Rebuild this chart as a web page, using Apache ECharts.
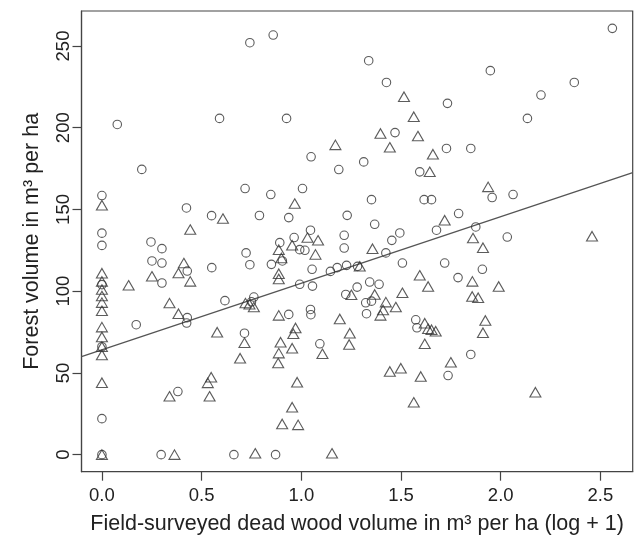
<!DOCTYPE html>
<html>
<head>
<meta charset="utf-8">
<script src="https://cdn.jsdelivr.net/npm/echarts@6/dist/echarts.min.js"></script>
<style>html,body{margin:0;padding:0;background:#fff}#c{width:636px;height:538px}</style>
</head>
<body>
<div id="c"></div>
<script>
// Circles (series 1)
const circleX = [0.742,0.077,0.59,0.20,0.859,1.338,1.427,1.733,0.926,1.47,1.049,1.313,1.728,1.188,1.594,2.56,1.948,2.369,2.202,2.134,1.85,
  0.718,0,0.424,0.55,0.79,0,0,0.246,0.301,0.251,0.301,0.428,0.551,0.723,0.742,0.301,0.617,0.762,0.75,0.428,0.425,0.172,0.715,0.381,0.297,0.662,0,0,0,0,
  0.871,0.937,1.048,1.093,1.327,1.574,1.58,1.736,1.85,1.957,2.062,1.789,1.678,1.875,2.033,1.719,1.908,1.786,
  0.847,1.006,1.352,1.616,1.653,0.937,1.23,1.368,1.046,1.494,1.454,1.215,0.964,0.892,0.992,1.018,1.215,1.424,0.905,0.85,1.054,1.146,1.18,1.227,1.282,1.507,0.992,1.056,1.343,1.39,1.28,1.223,1.323,1.352,1.046];
const circleY = [252,202,205.7,174.5,256.7,241,227.7,214.9,205.7,197,182.2,179.1,187.3,174.4,173,260.8,234.9,227.7,220,205.7,187.3,
  162.8,158.5,150.9,146.2,146.3,135.5,128,130.1,126,118.5,117.2,112.3,114.4,123.4,116.2,105,94.2,96.4,93.5,83.8,80.5,79.5,74.3,38.6,0,0,66,22,0,104,
  0,85.8,85.6,67.8,86.2,82.5,77.6,48.4,61.3,157.3,159.1,147.5,137.3,139.3,133.1,117.2,113.4,108.3,
  159.1,162.8,156,156,156,145,146.4,140.9,137.3,135.6,131.1,134.2,132.8,129.7,125.4,125,126.4,123.4,118.5,116.4,113.4,112.1,114.4,115.8,115.2,117.2,104.2,103.1,105.6,104.2,102.5,98,92.9,93.9,88.8];

// Triangles (series 2)
const triangleX = [1.515,1.564,1.397,1.585,1.444,1.171,1.66,1.644,
  0,0.607,0.443,0.411,0.384,0.251,0.134,0.443,0.339,0.72,0.74,0.762,0.384,
  0,0,0,0,0,0,0,0,0,0,0,0,
  0.578,0.715,0.693,0.548,0.531,0.54,0.339,0.364,0.769,
  1.154,0.904,0.984,0.954,0.979,0.884,0.887,0.896,0.954,0.971,0.96,0.887,1.106,1.193,1.243,1.24,1.397,1.41,1.619,1.636,1.653,1.674,1.619,1.444,1.499,1.599,1.564,1.75,
  1.923,1.911,2.174,
  1.937,1.719,1.861,2.458,1.911,1.858,1.99,1.857,1.887,
  0.967,1.031,1.084,0.887,0.954,1.357,1.071,0.9,0.887,0.887,1.293,1.594,1.636,1.251,1.368,1.507,1.424,1.474];
const triangleY = [219,206.7,196.5,194.9,188,189.5,183.8,173,
  152.6,144.4,137.7,117.2,111.1,109.1,103.6,106,92.7,92.7,92,90.3,86.2,
  111,106,101,97,93,88,78,72,66,61,44,0,
  74.9,68.4,59,47.4,43.9,35.7,35.7,0,0.8,
  0.8,18.8,18.2,29,44.3,56,62.1,68.8,65.1,77.5,74,85.2,61.7,83,74.3,67.4,85.2,88.5,80.4,77,76.4,75.5,67.8,50.9,52.9,47.8,32,56.5,
  82.1,74.6,38.2,
  163.8,143.4,132.5,133.6,126.6,106,102.9,96.8,96,
  153.6,132.8,131.1,125.4,128.1,126,122.5,120.3,110.7,107.5,115.2,109.7,102.9,97.8,98,99,93.3,90.3];

// Regression line end points
const lineX = [-0.1024, 2.662];
const lineY = [60.0, 172.5];

// Tick labels
const xTicks = [0, 0.5, 1.0, 1.5, 2.0, 2.5];
const yTicks = [0, 50, 100, 150, 200, 250];

const zip = (a, b) => a.map((v, i) => [v, b[i]]);
const INK = '#333';
const FONT = '"Liberation Sans", Arial, sans-serif';

const chart = echarts.init(document.getElementById('c'), null, {renderer: 'canvas'});
chart.setOption({
  animation: false,
  backgroundColor: '#fff',
  grid: {left: 81.5, right: 3.3, top: 11, bottom: 66.3, containLabel: false, outerBoundsMode: 'none',
         show: true, borderColor: '#444', borderWidth: 1.2, backgroundColor: 'transparent'},
  xAxis: {
    type: 'value', min: -0.1024, max: 2.662,
    name: 'Field-surveyed dead wood volume in m³ per ha (log + 1)',
    nameLocation: 'middle', nameGap: 41,
    nameTextStyle: {fontFamily: FONT, fontSize: 21.5, color: '#222'},
    axisLine: {show: true, onZero: false, lineStyle: {color: '#444', width: 1.2}},
    axisTick: {show: true, length: 9, inside: false, customValues: xTicks, lineStyle: {color: '#444', width: 1.2}},
    axisLabel: {customValues: xTicks, formatter: v => v.toFixed(1), fontFamily: FONT, fontSize: 18.5, color: '#222', margin: 15},
    splitLine: {show: false}
  },
  yAxis: {
    type: 'value', min: -10.44, max: 271.4,
    name: 'Forest volume in m³ per ha',
    nameLocation: 'middle', nameGap: 38, nameRotate: 90,
    nameTextStyle: {fontFamily: FONT, fontSize: 21.5, color: '#222'},
    axisLine: {show: true, onZero: false, lineStyle: {color: '#444', width: 1.2}},
    axisTick: {show: true, length: 9, customValues: yTicks, lineStyle: {color: '#444', width: 1.2}},
    axisLabel: {customValues: yTicks, rotate: 90, fontFamily: FONT, fontSize: 18.5, color: '#222', margin: 8},
    splitLine: {show: false}
  },
  series: [
    {type: 'line', data: zip(lineX, lineY), symbol: 'none', lineStyle: {color: '#555', width: 1.3}, z: 1, silent: true},
    {type: 'scatter', data: zip(circleX, circleY), symbol: 'circle', symbolSize: 8.5,
     itemStyle: {color: 'rgba(0,0,0,0)', borderColor: INK, borderWidth: 1.1}, z: 2},
    {type: 'scatter', data: zip(triangleX, triangleY), symbol: 'triangle', symbolSize: [11, 9.5],
     itemStyle: {color: 'rgba(0,0,0,0)', borderColor: INK, borderWidth: 1.1}, z: 2}
  ]
});
</script>
</body>
</html>
